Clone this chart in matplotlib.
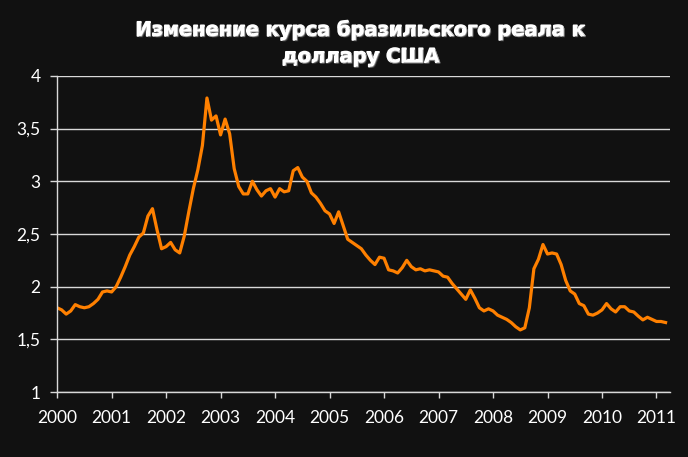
import numpy as np
from matplotlib import pyplot as plt
from matplotlib import patheffects as pe

bg = "#111111"
grid_color = "#d9d9d9"
line_color = "#ff8000"

# monthly BRL per USD, Jan 2000 .. Mar 2011
rate = [
    1.80, 1.78, 1.74, 1.77, 1.83, 1.81, 1.80, 1.81, 1.84, 1.88, 1.95, 1.96,
    1.95, 2.00, 2.09, 2.19, 2.30, 2.38, 2.47, 2.51, 2.67, 2.74, 2.54, 2.36,
    2.38, 2.42, 2.35, 2.32, 2.48, 2.71, 2.93, 3.11, 3.34, 3.79, 3.58, 3.62,
    3.44, 3.59, 3.45, 3.12, 2.95, 2.88, 2.88, 3.00, 2.92, 2.86, 2.91, 2.93,
    2.85, 2.93, 2.90, 2.91, 3.10, 3.13, 3.04, 3.00, 2.89, 2.85, 2.79, 2.72,
    2.69, 2.60, 2.71, 2.58, 2.45, 2.42, 2.39, 2.36, 2.30, 2.25, 2.21, 2.28,
    2.27, 2.16, 2.15, 2.13, 2.18, 2.25, 2.19, 2.16, 2.17, 2.15, 2.16, 2.15,
    2.14, 2.10, 2.09, 2.03, 1.98, 1.93, 1.88, 1.97, 1.89, 1.80, 1.77, 1.79,
    1.77, 1.73, 1.71, 1.69, 1.66, 1.62, 1.59, 1.61, 1.80, 2.17, 2.26, 2.40,
    2.31, 2.32, 2.31, 2.21, 2.06, 1.96, 1.93, 1.84, 1.82, 1.74, 1.73, 1.75,
    1.78, 1.84, 1.79, 1.76, 1.81, 1.81, 1.77, 1.76, 1.72, 1.685, 1.71, 1.69,
    1.67, 1.67, 1.66,
]
years = list(range(2000, 2012))
y_ticks = [1, 1.5, 2, 2.5, 3, 3.5, 4]
y_labels = ["1", "1,5", "2", "2,5", "3", "3,5", "4"]

t = 2000 + np.arange(len(rate)) / 12

fig = plt.figure(figsize=(6.88, 4.57), dpi=100, facecolor=bg)
ax = fig.add_axes([0.083, 0.142, 0.891, 0.692], facecolor=bg)

ax.plot(t, rate, color=line_color, lw=2.3, solid_joinstyle="round")
ax.set_xlim(2000, 2011.25)
ax.set_ylim(1, 4)
ax.set_yticks(y_ticks, y_labels)
ax.set_xticks(years, [str(y) for y in years])
ax.yaxis.grid(True, color=grid_color, lw=1)
ax.set_axisbelow(True)

for side in ["top", "right"]:
    ax.spines[side].set_visible(False)
for side in ["left", "bottom"]:
    ax.spines[side].set_color(grid_color)
    ax.spines[side].set_linewidth(1)
ax.tick_params(colors=grid_color, width=1, labelcolor="white", labelsize=12.5)
ax.tick_params(axis="x", length=4, pad=9)
ax.tick_params(axis="y", length=5, pad=7)
for lbl in ax.get_xticklabels() + ax.get_yticklabels():
    lbl.set_family(["Lato", "DejaVu Sans"])

fig.text(0.525, 0.905, "Изменение курса бразильского реала к\nдоллару США",
         ha="center", va="center", color="white", fontsize=14,
         fontweight="heavy", family=["DejaVu Sans"], linespacing=1.5,
         path_effects=[pe.withStroke(linewidth=1.2, foreground="white"),
                       pe.SimplePatchShadow(offset=(1, -1), alpha=0.6),
                       pe.Normal()])

plt.savefig("out.png", facecolor=bg)
